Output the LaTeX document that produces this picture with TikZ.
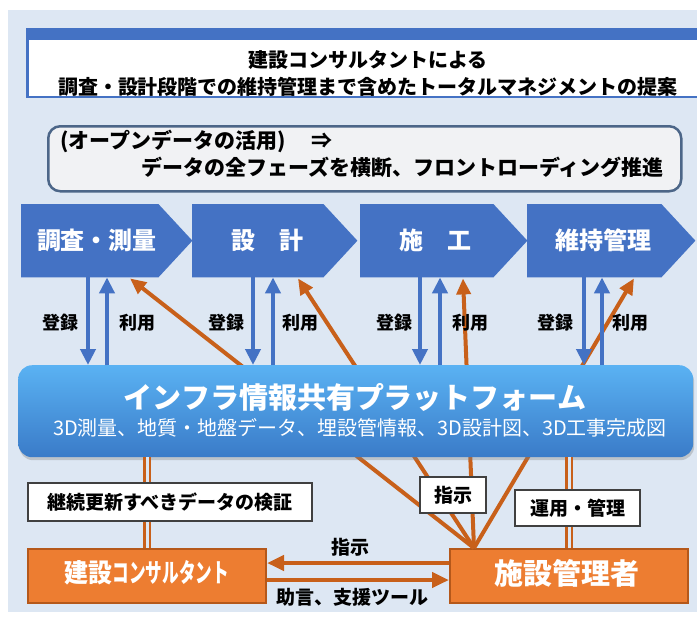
\documentclass[tikz,border=0pt]{standalone}
\usepackage{fontspec}
\setmainfont{Noto Sans CJK JP}
\newfontfamily\heavy{Noto Sans CJK JP Black}
\usepackage{graphicx}
\usetikzlibrary{arrows.meta,shadows,calc}
\definecolor{bgc}{HTML}{DDE7F3}
\definecolor{chev}{HTML}{4472C4}
\definecolor{grayfill}{HTML}{F1F2F4}
\definecolor{grayedge}{HTML}{4C6688}
\definecolor{orgfill}{HTML}{ED7D31}
\definecolor{orgedge}{HTML}{B5581A}
\definecolor{orgline}{HTML}{C8601A}
\definecolor{pftop}{HTML}{5AB2F3}
\definecolor{pfbot}{HTML}{3A7BC8}
\begin{document}
\begin{tikzpicture}[x=1pt,y=-1pt,
  chevbody/.style={inner sep=0pt, minimum height=73pt, anchor=north west},
  chevtxt/.style={text=white, font=\bfseries\fontsize{24}{24}\selectfont, inner sep=0pt},
  lbl/.style={font=\heavy\fontsize{18}{18}\selectfont, inner sep=0pt},
  barrow/.style={draw=chev, line width=4.5pt, -{Triangle[width=15pt,length=16pt]}},
  oarrow/.style={draw=orgline, line width=4pt, -{Triangle[width=14pt,length=16pt]}},
  harrow/.style={draw=orgline, line width=4.5pt, -{Triangle[width=15pt,length=17pt]}},
  dbl/.style={draw=orgline, line width=2.8pt, double=bgc, double distance=3pt},
  wbox/.style={draw=black!75, line width=1.2pt, fill=white, font=\heavy\fontsize{19}{19}\selectfont, inner sep=0pt},
  obox/.style={draw=orgedge, line width=2pt, fill=orgfill, inner sep=0pt, minimum height=54pt, minimum width=238pt, anchor=north west, text=white},
]
\useasboundingbox (0,0) rectangle (697,619);
\fill[bgc] (8,10) rectangle (697,612);

% title box
\fill[white] (26,28) rectangle (697,98);
\fill[chev] (26,28) rectangle (697,40);
\draw[chev, line width=2.5pt] (697,29.25) -- (27.25,29.25) -- (27.25,96.75) -- (697,96.75);
\node[align=center, font=\heavy\fontsize{20}{27}\selectfont] (title) at (368,73.5)
  {建設コンサルタントによる\\調査・設計段階での維持管理まで含めたトータルマネジメントの提案};

% open data box
\node[draw=grayedge, fill=grayfill, rounded corners=12pt, line width=2.5pt,
  minimum width=633pt, minimum height=65pt, anchor=north west, inner sep=0pt] (open) at (47,125) {};
\node[anchor=west, font=\heavy\fontsize{21}{21}\selectfont, inner sep=0pt] (op1) at (60,141)
  {(オープンデータの活用)\hspace{26pt}⇒};
\node[anchor=east, font=\heavy\fontsize{21}{21}\selectfont, inner sep=0pt] (op2) at (664,167)
  {データの全フェーズを横断、フロントローディング推進};

% chevrons
\node[chevbody, minimum width=171pt] (c1) at (21,204) {};
\node[chevbody, minimum width=165pt] (c2) at (192,204) {};
\node[chevbody, minimum width=167pt] (c3) at (360,204) {};
\node[chevbody, minimum width=168pt] (c4) at (527,204) {};
\foreach \c in {c1,c2,c3,c4}{
  \fill[chev] (\c.north west) -- ([xshift=-34pt]\c.north east) -- (\c.east)
    -- ([xshift=-34pt]\c.south east) -- (\c.south west) -- cycle;
}
\node[chevtxt] (t1) at (97,240) {調査・測量};
\node[chevtxt] (t2) at (267,240) {設　計};
\node[chevtxt] (t3) at (435,240) {施　工};
\node[chevtxt] (t4) at (603,240) {維持管理};

% bottom boxes
\node[obox] (cons) at (27,548) {};
\node[text=white, inner sep=0pt, font=\bfseries\fontsize{26}{26}\selectfont] (const) at (147,573)
  {\scalebox{0.92}[1]{建設}\scalebox{0.64}[1]{コンサルタント}};
\node[obox] (mgr) at (449,548) {};
\node[text=white, inner sep=0pt, font=\bfseries\fontsize{29}{29}\selectfont] (mgrt) at (567,573) {施設管理者};

% orange fan lines (behind platform)
\draw[oarrow] ([xshift=25pt]mgr.north west) -- ([xshift=109pt,yshift=-1pt]c1.south west);
\draw[oarrow] ([xshift=25pt]mgr.north west) -- ([xshift=106pt,yshift=-1pt]c2.south west);
\draw[oarrow] ([xshift=25pt]mgr.north west) -- ([xshift=103pt,yshift=-1pt]c3.south west);
\draw[oarrow] ([xshift=25pt]mgr.north west) -- ([xshift=107pt,yshift=-1pt]c4.south west);

% platform
\node[anchor=north west, minimum width=675pt, minimum height=92pt, rounded corners=14pt,
  top color=pftop, bottom color=pfbot, inner sep=0pt,
  drop shadow={shadow xshift=1pt, shadow yshift=-3pt, opacity=0.35}] (pf) at (18,365) {};
\node[text=white, inner sep=0pt, font=\bfseries\fontsize{29}{29}\selectfont] (pft) at (355,397)
  {インフラ情報共有プラットフォーム};
\node[text=white, inner sep=0pt, font=\fontsize{20}{20}\selectfont] (pfs) at (360,428)
  {3D測量、地質・地盤データ、埋設管情報、3D設計図、3D工事完成図};

% blue arrows
\draw[barrow] ([xshift=67pt]c1.south west) -- ([xshift=67pt]c1.south west |- pf.north);
\draw[barrow] ([xshift=86pt]c1.south west |- pf.north) -- ([xshift=86pt]c1.south west);
\draw[barrow] ([xshift=61pt]c2.south west) -- ([xshift=61pt]c2.south west |- pf.north);
\draw[barrow] ([xshift=81pt]c2.south west |- pf.north) -- ([xshift=81pt]c2.south west);
\draw[barrow] ([xshift=60pt]c3.south west) -- ([xshift=60pt]c3.south west |- pf.north);
\draw[barrow] ([xshift=80pt]c3.south west |- pf.north) -- ([xshift=80pt]c3.south west);
\draw[barrow] ([xshift=57pt]c4.south west) -- ([xshift=57pt]c4.south west |- pf.north);
\draw[barrow] ([xshift=75pt]c4.south west |- pf.north) -- ([xshift=75pt]c4.south west);

\node[lbl] (r1) at (60,323) {登録};
\node[lbl] (u1) at (137,323) {利用};
\node[lbl] (r2) at (226,323) {登録};
\node[lbl] (u2) at (300,323) {利用};
\node[lbl] (r3) at (394,323) {登録};
\node[lbl] (u3) at (470,323) {利用};
\node[lbl] (r4) at (555,323) {登録};
\node[lbl] (u4) at (630,323) {利用};

% double lines
\draw[dbl] (cons.north) -- (cons.north |- pf.south);
\draw[dbl] (mgr.north) -- (mgr.north |- pf.south);

% label boxes
\node[wbox, minimum width=284pt, minimum height=38pt] (lb1) at (170,502) {継続更新すべきデータの検証};
\node[wbox, minimum width=125pt, minimum height=36pt] (lb2) at (577.5,508) {運用・管理};
\node[wbox, minimum width=66pt, minimum height=36pt] (lb3) at (453,495) {指示};

% horizontal arrows
\draw[harrow] ([yshift=13pt]mgr.west) -- ([yshift=13pt]cons.east);
\draw[harrow] ([yshift=-4pt]cons.east) -- ([yshift=-4pt]mgr.west);
\node[lbl, font=\heavy\fontsize{19}{19}\selectfont] (h1) at (350,547) {指示};
\node[lbl, font=\heavy\fontsize{19}{19}\selectfont] (h2) at (352,597) {助言、支援ツール};
\end{tikzpicture}
\end{document}
